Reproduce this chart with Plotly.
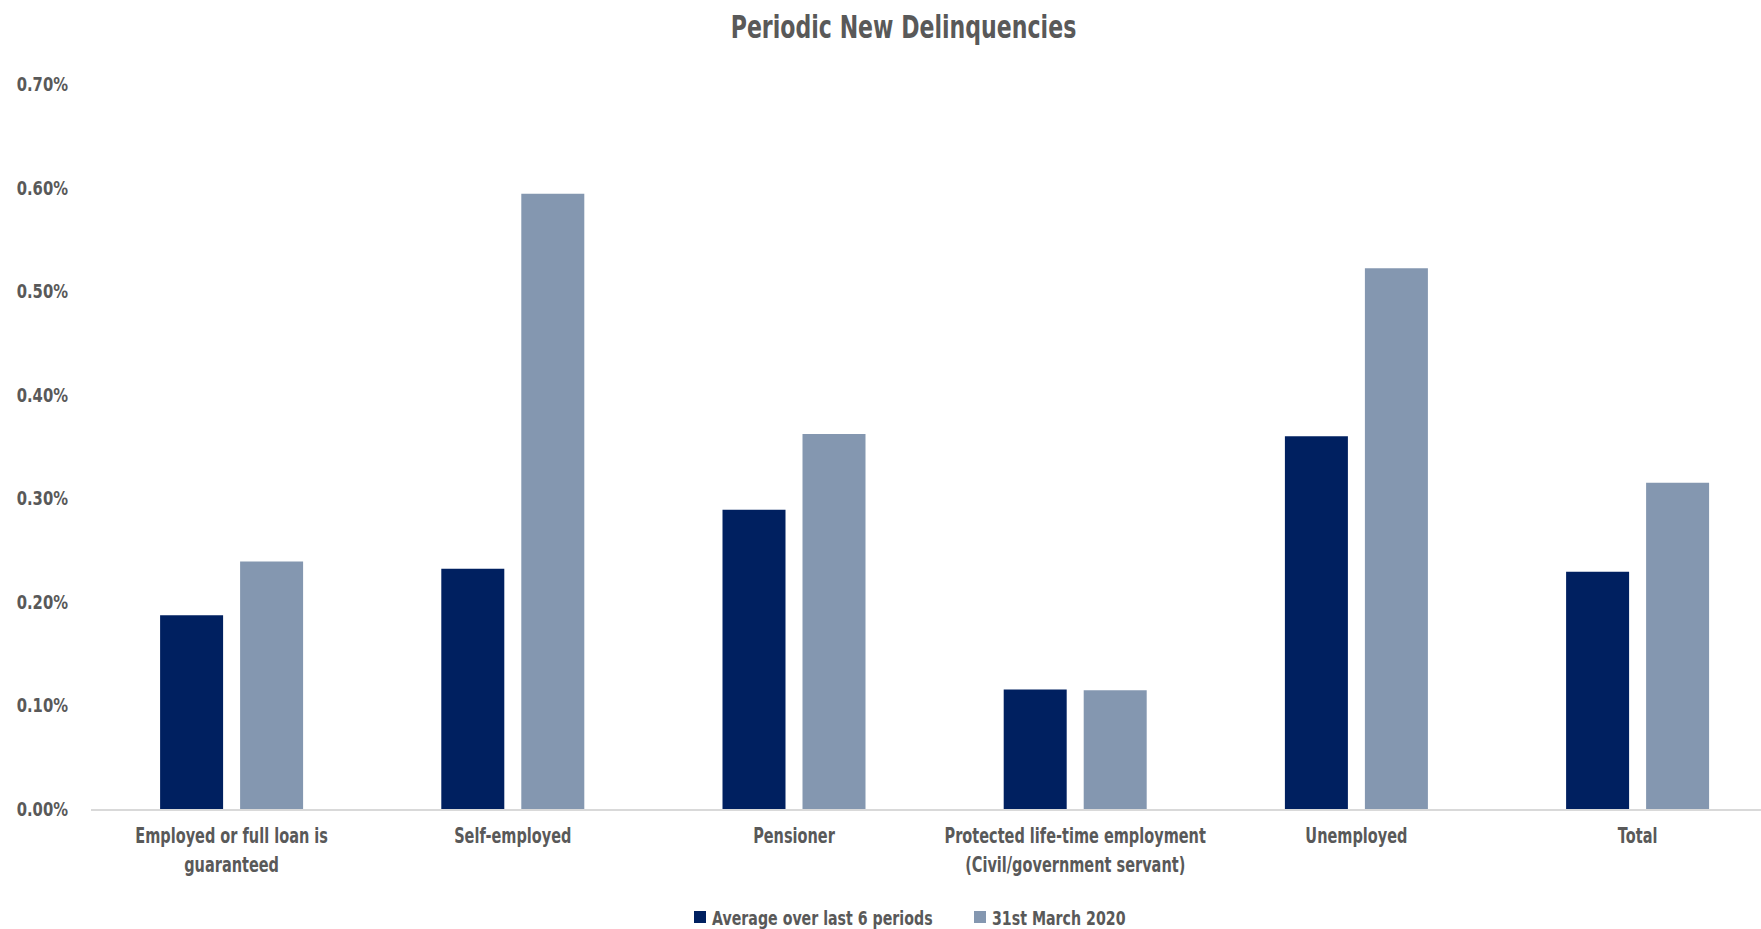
import plotly.graph_objects as go

# Borrower categories shown along the x axis
categories = [
    "Employed or full loan is<br>guaranteed",
    "Self-employed",
    "Pensioner",
    "Protected life-time employment<br>(Civil/government servant)",
    "Unemployed",
    "Total",
]

# New delinquency rates (as fractions)
avg_last_6 = [0.00187, 0.00232, 0.00289, 0.001155, 0.00360, 0.00229]
march_2020 = [0.00239, 0.00594, 0.00362, 0.001146, 0.00522, 0.00315]

series_names = ["Average over last 6 periods", "31st March 2020"]
y_ticks = [0, 0.001, 0.002, 0.003, 0.004, 0.005, 0.006, 0.007]
y_tick_text = ["0.00%", "0.10%", "0.20%", "0.30%", "0.40%", "0.50%", "0.60%", "0.70%"]

DARK = "#002060"
LIGHT = "#8497B0"
TEXT = "#595959"
FONT = "DejaVu Sans, sans-serif"


def bold(s):
    return "<br>".join("<b>" + part + "</b>" for part in s.split("<br>"))


fig = go.Figure()
fig.add_trace(go.Bar(x=categories, y=avg_last_6, name=bold(series_names[0]),
                     marker=dict(color=DARK, line=dict(width=0))))
fig.add_trace(go.Bar(x=categories, y=march_2020, name=bold(series_names[1]),
                     marker=dict(color=LIGHT, line=dict(width=0))))

fig.update_layout(
    width=1761, height=929,
    barmode="group", bargap=0.431, bargroupgap=0.2125,
    paper_bgcolor="white", plot_bgcolor="white",
    margin=dict(l=91, r=0, t=84, b=120),
    font=dict(family=FONT, color=TEXT, size=20),
    title=dict(text="<b>Periodic New Delinquencies</b>",
               font=dict(family=FONT, size=32, color=TEXT),
               x=(731 + 1076) / 2 / 1761, xanchor="center", xref="container",
               y=1 - 27 / 929, yanchor="middle", yref="container"),
    legend=dict(orientation="h", x=680 / 1761, xanchor="left", xref="container",
                y=1 - 917 / 929, yanchor="middle", yref="container",
                font=dict(family=FONT, size=20, color=TEXT),
                itemwidth=30, entrywidth=235, entrywidthmode="pixels",
                traceorder="normal"),
    showlegend=True,
)

fig.update_yaxes(range=[0, 0.007], tickvals=y_ticks,
                 ticktext=[bold(t) for t in y_tick_text],
                 showgrid=False, zeroline=False, showline=False,
                 ticks="", ticklabelstandoff=22,
                 tickfont=dict(family=FONT, size=20, color=TEXT))
fig.update_xaxes(range=[-0.5, -0.5 + (1761 - 91) / 281.2],
                 showline=True, linecolor="#d9d9d9", linewidth=2,
                 showgrid=False, ticks="", ticklabelstandoff=6,
                 tickvals=categories,
                 ticktext=[bold(c) for c in categories],
                 tickfont=dict(family=FONT, size=22, color=TEXT))

# Narrow the labels horizontally around their anchor points so the bold face
# reads as a condensed type; legend labels sit a little closer to their keys.
post = """
var gd = document.getElementById('{plot_id}');
function squeeze(sel, k, dx) {
  gd.querySelectorAll(sel).forEach(function (t) {
    var x = parseFloat(t.getAttribute('x')) || 0;
    var tr = t.getAttribute('transform') || '';
    t.setAttribute('transform', tr + ' translate(' + (x + dx) + ',0) scale(' + k +
      ',1) translate(' + (-x) + ',0)');
  });
}
squeeze('.gtitle', 0.69, 0);
squeeze('.ytick text', 0.74, 0);
squeeze('.xtick text', 0.66, 0);
squeeze('.legendtext', 0.71, -8);
"""

fig.write_html("out.html", post_script=post)
